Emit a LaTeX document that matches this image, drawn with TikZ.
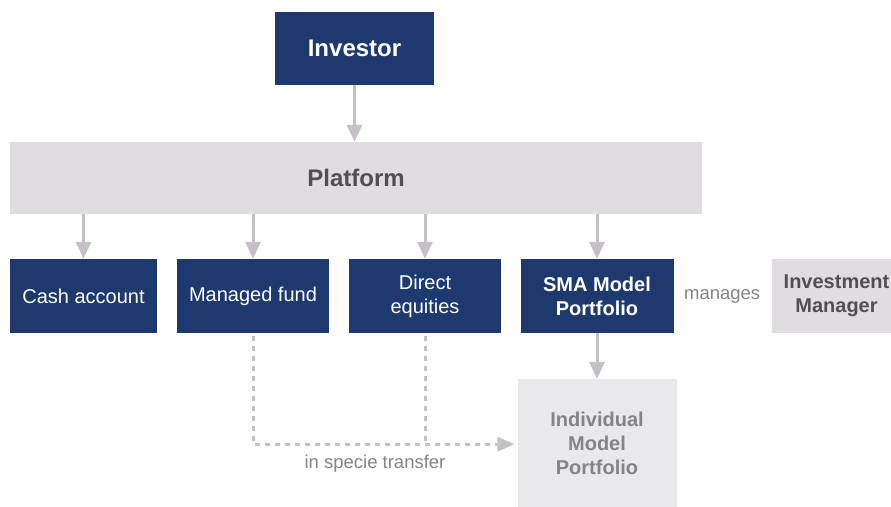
\documentclass[tikz,border=0pt]{standalone}
\usepackage{fontspec}
\setmainfont{Liberation Sans}
\usetikzlibrary{positioning, arrows.meta}
\definecolor{navy}{RGB}{30,57,110}
\definecolor{platformgrey}{RGB}{224,221,224}
\definecolor{palegrey}{RGB}{233,232,234}
\definecolor{arrowgrey}{RGB}{196,192,198}
\definecolor{textgrey}{RGB}{132,132,132}
\definecolor{darkgrey}{RGB}{80,80,80}

\begin{document}
\begin{tikzpicture}
    [
        node distance=118pt and 172pt, on grid, auto,
        navy_node/.style={rectangle, fill=navy, text=white, minimum width=152pt, minimum height=74pt, align=center, font=\fontsize{20}{24}\selectfont},
        grey_node/.style={rectangle, fill=platformgrey, text=darkgrey, align=center, font=\fontsize{20}{24}\selectfont\bfseries},
        pale_node/.style={rectangle, fill=palegrey, text=textgrey, align=center, font=\fontsize{20}{24}\selectfont\bfseries},
        label_text/.style={text=textgrey, font=\fontsize{18.5}{22}\selectfont},
        grey_arrow/.style={-{Triangle[width=15pt,length=17pt]}, line width=3pt, color=arrowgrey},
        dashed_arrow/.style={line width=3pt, color=arrowgrey, dash pattern=on 5pt off 5pt},
    ]
        \useasboundingbox (0,0) rectangle (891pt,-506pt);
        \node[navy_node, minimum width=159pt, minimum height=73pt, font=\fontsize{24}{28}\selectfont\bfseries] (investor) at (354.5pt,-48.5pt) {Investor} ;
        \node[grey_node, minimum width=692pt, minimum height=72pt, font=\fontsize{24}{28}\selectfont\bfseries] (platform) at (356pt,-178pt) {Platform} ;
        \node[navy_node, minimum width=147pt] (cash) at (83.5pt,-296pt) {Cash account} ;
        \node[navy_node] (managed) [right = 169.5pt of cash] {Managed fund} ;
        \node[navy_node] (direct) [right = of managed] {Direct\\equities} ;
        \node[navy_node, minimum width=153pt, font=\fontsize{20}{24}\selectfont\bfseries] (sma) [right = of direct] {SMA Model\\Portfolio} ;
        \node[grey_node, minimum width=130pt, minimum height=74pt] (manager) [right = 239.5pt of sma] {Investment\\Manager} ;
        \node[label_text] (manages) [right = 48.5pt of sma.east, anchor=center] {manages} ;
        \node[pale_node, minimum width=159pt, minimum height=128pt] (individual) [below = 147pt of sma] {Individual\\Model\\Portfolio} ;
        \coordinate[below = 111pt of managed.south] (turn) ;
        \node[label_text] (transfer) [below right = 20pt and 122pt of turn, anchor=center] {in specie transfer} ;
        \draw[grey_arrow] (investor) -- (investor |- platform.north) ;
        \draw[grey_arrow] (platform.south -| cash) -- (cash) ;
        \draw[grey_arrow] (platform.south -| managed) -- (managed) ;
        \draw[grey_arrow] (platform.south -| direct) -- (direct) ;
        \draw[grey_arrow] (platform.south -| sma) -- (sma) ;
        \draw[grey_arrow] (sma) -- (individual) ;
        \draw[dashed_arrow] ([yshift=-3pt]managed.south) -- (turn) -- ([xshift=-17pt]turn -| individual.west) ;
        \draw[dashed_arrow] ([yshift=-3pt]direct.south) -- (direct.south |- turn) ;
        \fill[arrowgrey] (turn -| individual.west) ++(-3pt,0) -- ++(-17pt,7.5pt) -- ++(0,-15pt) -- cycle ;
    \end{tikzpicture}
\end{document}
